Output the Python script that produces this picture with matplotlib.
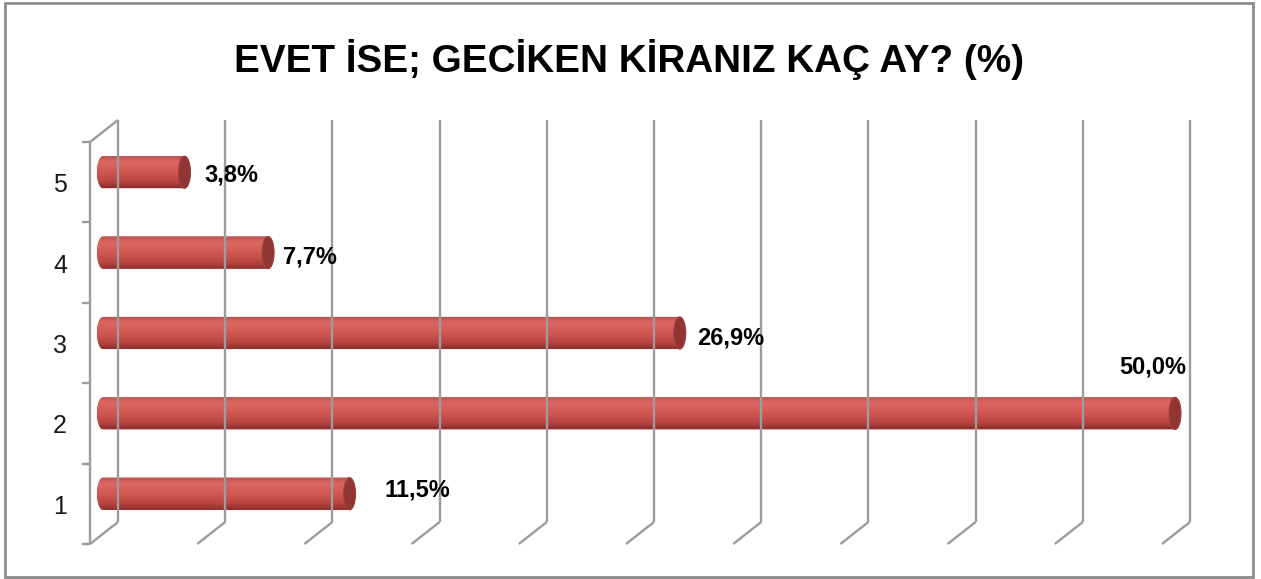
import matplotlib
matplotlib.use('Agg')
import matplotlib.pyplot as plt
import numpy as np
from matplotlib.lines import Line2D
from matplotlib.patches import Rectangle, Ellipse, PathPatch
from matplotlib.path import Path
from matplotlib.transforms import IdentityTransform
from matplotlib.colors import LinearSegmentedColormap

# ---- data ----
categories = ['1', '2', '3', '4', '5']
values = [11.5, 50.0, 26.9, 7.7, 3.8]
value_labels = ['11,5%', '50,0%', '26,9%', '7,7%', '3,8%']
x_grid = list(range(0, 55, 5))
title = 'EVET İSE; GECİKEN KİRANIZ KAÇ AY? (%)'

# ---- style ----
W, H = 1261, 579
GRID = '#9c9c9c'
FRONT = np.array([-13.0, -10.0])   # pixel offset of front plane from bar plane
BACK = np.array([15.0, 12.0])      # pixel offset of back wall from bar plane
label_style = [(35, 4, 'left'), (-22, 46, 'center'), (17, -5, 'left'),
               (15, -4, 'left'), (20, -3, 'left')]

PX = 1072 / 50  # pixels per percent on the bar plane
fig = plt.figure(figsize=(W / 100, H / 100), dpi=100)
ax = fig.add_axes([(103 - PX) / W, 45 / H, (1072 + 2 * PX) / W, 402 / H])
ax.set_xlim(-1, 51)
ax.set_ylim(0.5, 5.5)
ax.axis('off')

y0, y1 = 0.5, 0.5 + len(categories)


def disp(x, y, off):
    return ax.transData.transform((x, y)) + off


def seg(p, q, lw=1.7, color=GRID):
    fig.add_artist(Line2D([p[0], q[0]], [p[1], q[1]], transform=IdentityTransform(),
                          color=color, lw=lw, solid_capstyle='butt', zorder=1))


# back wall vertical gridlines and floor diagonals
for xv in x_grid:
    seg(disp(xv, y0, BACK), disp(xv, y1, BACK))
    seg(disp(xv, y0, FRONT), disp(xv, y0, BACK))
# left wall: front axis line, top diagonal, ticks
seg(disp(0, y0, FRONT), disp(0, y1, FRONT))
seg(disp(0, y1, FRONT), disp(0, y1, BACK))
for k in range(len(categories) + 1):
    p = disp(0, y0 + k, FRONT)
    seg(p - np.array([8, 0]), p)

# category labels
for i, c in enumerate(categories):
    p = disp(0, i + 1, FRONT)
    fig.text(60 / W, (p[1] - 3) / H, c, ha='center', va='center',
             fontsize=18, color='#1a1a1a', family='Liberation Sans')

# cylinder bars
cmap = LinearSegmentedColormap.from_list('cyl', [
    (0.0, '#b9504c'), (0.2, '#dc6763'), (0.5, '#d15753'),
    (0.8, '#bb4541'), (1.0, '#8a2e2b')])
grad = np.linspace(0, 1, 100).reshape(-1, 1)
bar_h = 0.4
px_per_x = ax.transData.transform((1, 0))[0] - ax.transData.transform((0, 0))[0]
a = 6.0 / px_per_x  # semi-width of end ellipses in data units
for i, v in enumerate(values):
    yc = i + 1
    yb, yt = yc - bar_h / 2, yc + bar_h / 2
    t = np.linspace(np.pi / 2, 3 * np.pi / 2, 30)
    left = np.column_stack([a * np.cos(t), yc + bar_h / 2 * np.sin(t)])
    t2 = np.linspace(-np.pi / 2, np.pi / 2, 30)
    right = np.column_stack([v + a * np.cos(t2), yc + bar_h / 2 * np.sin(t2)])
    verts = np.vstack([left, right, left[:1]])
    path = Path(verts)
    body = PathPatch(path, facecolor='#c9504c', edgecolor='none', zorder=3)
    ax.add_patch(body)
    im = ax.imshow(grad, cmap=cmap, aspect='auto', extent=[-a, v + a, yb, yt],
                   origin='upper', zorder=3.5, interpolation='bilinear')
    im.set_clip_path(body)
    cap = Ellipse((v, yc), 2 * a, bar_h, facecolor='#8f3532', edgecolor='#a5403c',
                  lw=0.8, zorder=4)
    ax.add_patch(cap)
    dx, dy, ha = label_style[i]
    p = ax.transData.transform((v, yc)) + np.array([dx, dy])
    fig.text(p[0] / W, p[1] / H, value_labels[i], ha=ha, va='center',
             fontsize=17, fontweight='bold', color='black', family='Liberation Sans')

ax.set_xlim(-1, 51)
ax.set_ylim(0.5, 5.5)

# title (size fitted to the reference's width)
tt = fig.text(629 / W, 1 - 59 / H, title, ha='center', va='center', fontsize=33,
              fontweight='bold', family='Liberation Sans')
r = fig.canvas.get_renderer()
wpx = tt.get_window_extent(r).width
tt.set_fontsize(33 * 790 / wpx)

# outer border
fig.add_artist(Rectangle((5, 2), 1248, 574, transform=IdentityTransform(),
                         fill=False, edgecolor='#8c8c8c', lw=2))

fig.savefig('out.png', dpi=100)
